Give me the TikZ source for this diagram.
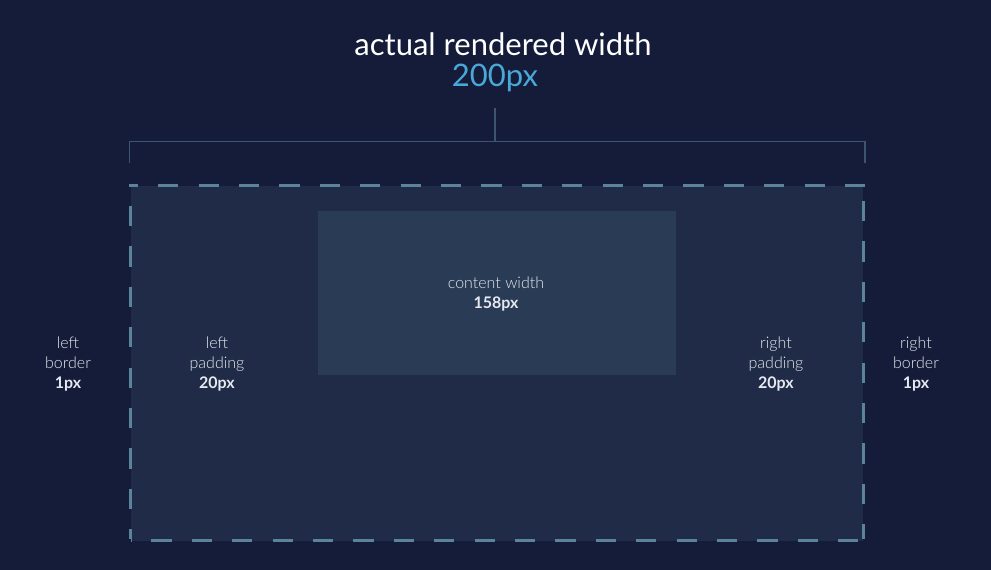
\documentclass[tikz,border=0pt]{standalone}
\usepackage{fontspec}
\IfFontExistsTF{Lato Light}{\setmainfont{Lato Light}[BoldFont=Lato Bold]}{\setmainfont{Lato}}
\newfontfamily\titlefont{Lato}
\definecolor{bg}{HTML}{141C3A}
\definecolor{boxfill}{HTML}{1F2B47}
\definecolor{contentfill}{HTML}{293B55}
\definecolor{dashcol}{HTML}{5B8399}
\definecolor{brackcol}{HTML}{3D5570}
\definecolor{titleblue}{HTML}{4AA8D8}
\definecolor{txt}{HTML}{E6E9EF}
\begin{document}
\begin{tikzpicture}[x=1pt,y=-1pt,
  lbl/.style={text=txt,font=\fontsize{16}{20}\selectfont,align=center,inner sep=0pt},
  borderline/.style={draw=dashcol,line width=3pt,dash pattern=on 20.2pt off 20.2pt},
  brack/.style={draw=brackcol,line width=1.4pt}]
\fill[bg] (0,0) rectangle (991,570);
\useasboundingbox (0,0) rectangle (991,570);
% box
\fill[boxfill] (131,186) rectangle (863,541);
\node[fill=contentfill,minimum width=358pt,minimum height=164pt,inner sep=0pt,anchor=north west] (content) at (318,211) {};
% dashed border, side by side
\coordinate (tl) at (129,185.5);
\coordinate (tr) at (865,185.5);
\coordinate (bl) at (130.5,540.5);
\coordinate (br) at (863.5,540.5);
\draw[borderline,dash phase=11.2pt] (tl) -- (tr);
\draw[borderline,dash phase=20pt] ([xshift=1.5pt]tl) -- ([yshift=2pt]bl);
\draw[borderline,dash phase=25pt] ([xshift=-1.5pt]tr) -- ([yshift=2pt]br);
\draw[borderline,dash phase=20pt] ([xshift=0.5pt]bl) -- (br);
% bracket
\coordinate (bk1) at (129.5,163);
\coordinate (bk2) at (129.5,141.5);
\coordinate (bk3) at (865,141.5);
\coordinate (bk4) at (865,163);
\coordinate (bkm) at (495,141.5);
\draw[brack] (bk1) -- (bk2) -- (bk3) -- (bk4);
% title
\node[text=white,font=\titlefont\fontsize{31}{33}\selectfont,inner sep=0pt] (title) at (503,44) {actual rendered width};
\node[text=titleblue,font=\titlefont\fontsize{31}{33}\selectfont,inner sep=0pt] (titlepx) at (495,78) {200px};
\coordinate (stem) at (495,108);
\draw[brack] (stem) -- (bkm);
% labels
\node[lbl] (contentlbl) at (496,294) {content width\\\textbf{158px}};
\node[lbl] (lborder) at (68,364) {left\\border\\\textbf{1px}};
\node[lbl] (lpad) at (217,364) {left\\padding\\\textbf{20px}};
\node[lbl] (rpad) at (776,364) {right\\padding\\\textbf{20px}};
\node[lbl] (rborder) at (916,364) {right\\border\\\textbf{1px}};
\end{tikzpicture}
\end{document}
